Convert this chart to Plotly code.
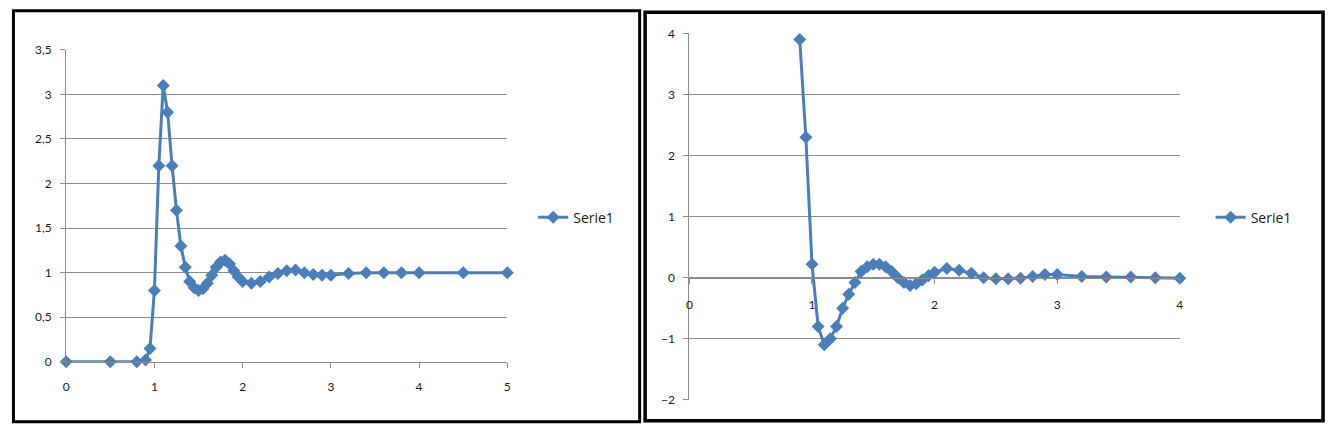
import plotly.graph_objects as go

# left chart: Serie1
x_left = [0, 0.5, 0.8, 0.9, 0.95, 1.0, 1.05, 1.1, 1.15, 1.2, 1.25, 1.3, 1.35, 1.4,
          1.45, 1.5, 1.55, 1.6, 1.65, 1.7, 1.75, 1.8, 1.85, 1.9, 1.95, 2.0, 2.1,
          2.2, 2.3, 2.4, 2.5, 2.6, 2.7, 2.8, 2.9, 3.0, 3.2, 3.4, 3.6, 3.8, 4.0, 4.5, 5.0]
y_left = [0, 0, 0, 0.02, 0.15, 0.8, 2.2, 3.1, 2.8, 2.2, 1.7, 1.3, 1.06, 0.9,
          0.83, 0.8, 0.82, 0.88, 0.97, 1.06, 1.12, 1.14, 1.1, 1.02, 0.95, 0.9, 0.88,
          0.9, 0.95, 0.99, 1.02, 1.03, 1.0, 0.98, 0.97, 0.97, 0.99, 1.0, 1.0, 1.0, 1.0, 1.0, 1.0]

# right chart: Serie1
x_right = [0.9, 0.95, 1.0, 1.05, 1.1, 1.15, 1.2, 1.25, 1.3, 1.35, 1.4, 1.45, 1.5,
           1.55, 1.6, 1.65, 1.7, 1.75, 1.8, 1.85, 1.9, 1.95, 2.0, 2.1, 2.2, 2.3,
           2.4, 2.5, 2.6, 2.7, 2.8, 2.9, 3.0, 3.2, 3.4, 3.6, 3.8, 4.0]
y_right = [3.9, 2.3, 0.22, -0.8, -1.1, -1.0, -0.8, -0.5, -0.27, -0.08, 0.1, 0.18, 0.22,
           0.22, 0.18, 0.1, 0.0, -0.08, -0.13, -0.1, -0.04, 0.03, 0.09, 0.15, 0.12, 0.07,
           0.0, -0.02, -0.02, -0.01, 0.02, 0.05, 0.05, 0.02, 0.01, 0.01, 0.0, -0.01]

W, H = 1337, 432
# the screenshot came out squeezed vertically, so positions are pre-stretched
YS, YOFF = 0.964, 8
blue = '#4a7ebb'
grid = '#8c8c8c'
font = dict(family='Lato, Open Sans, sans-serif', size=12, color='#1a1a1a')
legend_font = dict(family='Open Sans, sans-serif', size=14, color='#1a1a1a')

def px(v):
    return v / W

def py(v):
    return 1 - (v / YS - YOFF) / H

fig = go.Figure()

fig.add_trace(go.Scatter(x=x_left, y=y_left, mode='lines+markers', name='Serie1',
                         line=dict(color=blue, width=3),
                         marker=dict(symbol='diamond', size=10, color=blue),
                         cliponaxis=False, xaxis='x', yaxis='y',
                         legend='legend', showlegend=True))
fig.add_trace(go.Scatter(x=x_right, y=y_right, mode='lines+markers', name='Serie1',
                         line=dict(color=blue, width=3),
                         marker=dict(symbol='diamond', size=10, color=blue),
                         cliponaxis=False, xaxis='x2', yaxis='y2',
                         legend='legend2', showlegend=True))

axis_common = dict(showline=True, linecolor=grid, linewidth=1, ticks='outside',
                   ticklen=5, tickcolor=grid, zeroline=False, fixedrange=True,
                   tickfont=font)

fig.update_layout(
    width=W, height=H,
    margin=dict(l=0, r=0, t=0, b=0),
    paper_bgcolor='white', plot_bgcolor='white',
    separators=', ',
    showlegend=True,
    xaxis=dict(domain=[px(63.5), px(507)], range=[0, 5], dtick=1, showgrid=False,
               anchor='y', ticklabelstandoff=9, **axis_common),
    yaxis=dict(domain=[py(361), py(49.5)], range=[0, 3.5], dtick=0.5, showgrid=True,
               gridcolor=grid, anchor='x', ticklabelstandoff=6, **axis_common),
    xaxis2=dict(domain=[px(690), px(1183)], range=[0, 4], dtick=1, showgrid=False,
                anchor='free', position=py(277), ticklabelstandoff=11, **axis_common),
    yaxis2=dict(domain=[py(399), py(33)], range=[-2, 4], dtick=1, showgrid=True,
                gridcolor=grid, anchor='x2', ticklabelstandoff=6, **axis_common),
    legend=dict(x=px(533), y=py(217), xanchor='left', yanchor='middle',
                font=legend_font, bgcolor='rgba(0,0,0,0)'),
    legend2=dict(x=px(1214), y=py(217), xanchor='left', yanchor='middle',
                 font=legend_font, bgcolor='rgba(0,0,0,0)'),
    shapes=[
        dict(type='rect', xref='paper', yref='paper', x0=px(10.5), x1=px(640),
             y0=py(421), y1=py(10.5), line=dict(color='black', width=3)),
        dict(type='rect', xref='paper', yref='paper', x0=px(645.5), x1=px(1327),
             y0=py(420), y1=py(12), line=dict(color='black', width=3.5)),
    ],
)

fig.write_html("out.html", config={'displayModeBar': False},
               post_script="document.body.style.margin='0';")
